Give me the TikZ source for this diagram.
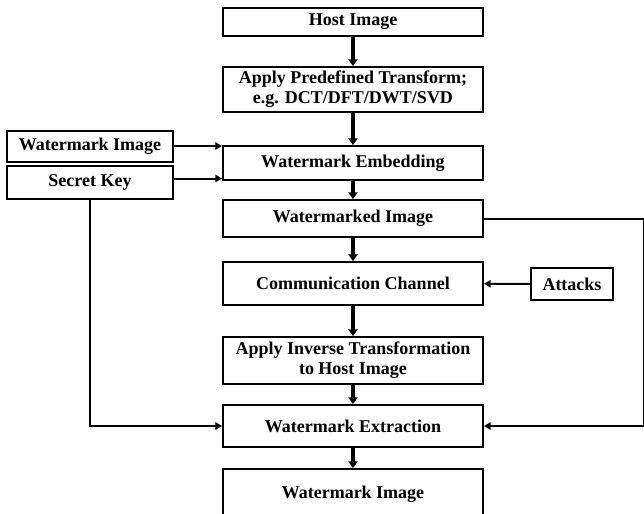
\documentclass[tikz,border=0pt]{standalone}
\usepackage{fontspec}
\setmainfont{Liberation Serif}
\usetikzlibrary{arrows.meta}

\tikzset{
  blk/.style={draw, line width=1.5pt, inner sep=0pt, align=center,
    font=\fontsize{13.5}{15}\selectfont\bfseries},
  mainblk/.style={blk, minimum width=195pt},
  sideblk/.style={blk, minimum width=124.5pt},
  thickarr/.style={line width=3.5pt, -{Triangle[length=5pt,width=7pt]}},
  thinarr/.style={line width=1.5pt, -{Triangle[length=5pt,width=5.5pt]}}
}

\begin{document}
\begin{tikzpicture}[x=0.75pt,y=0.75pt,yscale=-1,xscale=1]
    \useasboundingbox (0,0) rectangle (644,514);

    %Shape: Rectangle [main column]
    \node [mainblk, minimum height=21pt] (host) at (353,22) {Host Image};
    \node [mainblk, minimum height=33.75pt] (trans) at (353,89.5) {Apply Predefined Transform;\\e.g. DCT/DFT/DWT/SVD};
    \node [mainblk, minimum height=25.5pt] (embed) at (353,163) {Watermark Embedding};
    \node [mainblk, minimum height=27.75pt] (marked) at (353,218.5) {Watermarked Image};
    \node [mainblk, minimum height=32.25pt] (comm) at (353,283.5) {Communication Channel};
    \node [mainblk, minimum height=35.25pt] (inverse) at (353,360.5) {Apply Inverse Transformation\\to Host Image};
    \node [mainblk, minimum height=31.5pt] (extract) at (353,426) {Watermark Extraction};
    \node [mainblk, minimum height=37.5pt] (wmout) at (353,494) {Watermark Image};

    %Shape: Rectangle [side inputs]
    \node [sideblk, minimum height=23.25pt] (wmimg) at (90,146) {Watermark Image};
    \node [sideblk, minimum height=24.75pt] (secret) at (90,182.5) {Secret Key};
    \node [blk, minimum width=61.5pt, minimum height=24pt] (attacks) at (572,284) {Attacks};

    % thick arrows down the column
    \draw [thickarr] (host) -- (trans);
    \draw [thickarr] (trans) -- (embed);
    \draw [thickarr] (embed) -- (marked);
    \draw [thickarr] (marked) -- (comm);
    \draw [thickarr] (comm) -- (inverse);
    \draw [thickarr] (inverse) -- (extract);
    \draw [thickarr] (extract) -- (wmout);

    % thin arrows from the sides
    \draw [thinarr] (wmimg.east) -- (wmimg.east -| embed.west);
    \draw [thinarr] ([yshift=-3]secret.east) -- ([yshift=-3]secret.east -| embed.west);
    \draw [thinarr] (attacks) -- (comm);
    \draw [thinarr] (secret.south) |- (extract.west);
    \draw [thinarr] (marked.east) -- ++(160,0) |- (extract.east);
\end{tikzpicture}
\end{document}
